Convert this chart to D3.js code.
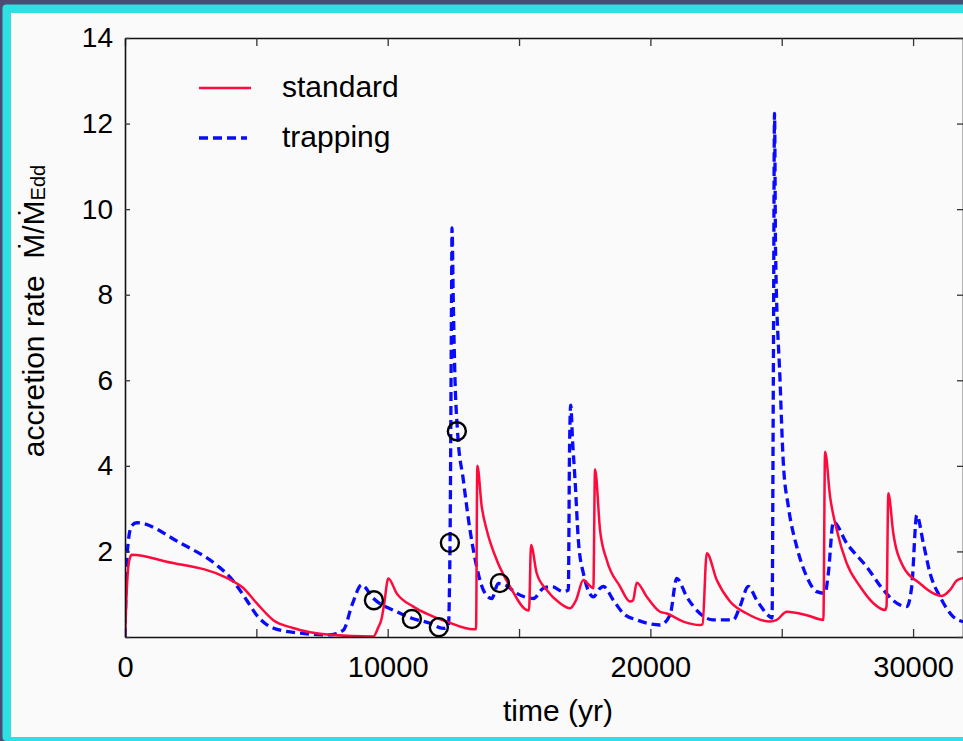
<!DOCTYPE html>
<html>
<head>
<meta charset="utf-8">
<script src="https://cdn.jsdelivr.net/npm/d3@7"></script>
<style>
  body { margin: 0; background: #4b4b73; }
  svg { display: block; }
  text { font-family: "Liberation Sans", Arial, Helvetica, sans-serif; fill: #000; }
</style>
</head>
<body>
<script>
// time (yr) and accretion rate (M/M_Edd)
const standardT = [0, 60, 150, 255, 1587, 3872, 4492, 5014, 5634, 6396, 7804, 9453, 9631, 9772, 9860, 10024, 10343, 10975, 11611, 12247, 13260, 13363, 13412, 13579, 13770, 14150, 14657, 15292, 15380, 15456, 15673, 16054, 16560, 16941, 17170, 17448, 17703, 17829, 17893, 18083, 18338, 18845, 19225, 19340, 19481, 19861, 20367, 20622, 21254, 21890, 21985, 22145, 22526, 23032, 23668, 24554, 24810, 25190, 25952, 26585, 26649, 26840, 27094, 27474, 27982, 28488, 28932, 28989, 29058, 29248, 29629, 30265, 30771, 31091, 31407, 31662, 31900];
const standardV = [0, 1.0, 1.75, 1.92, 1.76, 1.38, 1.15, 0.79, 0.40, 0.21, 0.05, 0.01, 0.21, 0.44, 0.75, 1.37, 1.02, 0.71, 0.51, 0.36, 0.18, 0.18, 4.0, 3.05, 2.50, 1.80, 1.18, 0.63, 0.62, 2.15, 1.49, 1.10, 0.79, 0.67, 0.86, 1.33, 1.19, 1.14, 3.92, 2.50, 1.80, 1.18, 0.83, 0.86, 1.27, 0.94, 0.59, 0.55, 0.36, 0.28, 0.30, 1.96, 1.33, 0.83, 0.55, 0.36, 0.40, 0.59, 0.51, 0.40, 4.33, 3.28, 2.50, 1.72, 1.18, 0.79, 0.63, 0.72, 3.36, 2.42, 1.64, 1.25, 1.02, 0.96, 1.10, 1.32, 1.38];

const trappingT = [0, 40, 120, 255, 445, 2094, 3491, 3997, 4633, 5014, 5634, 6662, 7804, 8311, 8642, 9011, 9441, 10343, 10914, 11611, 12106, 12308, 12373, 12430, 12449, 12496, 12563, 12658, 12879, 13134, 13389, 13640, 13960, 14211, 14467, 14912, 15544, 15925, 16244, 16686, 16877, 16922, 16968, 17036, 17132, 17257, 17448, 17829, 18083, 18209, 18590, 18971, 19481, 20367, 20748, 21003, 21384, 21886, 22393, 23154, 23408, 23728, 24048, 24554, 24630, 24680, 24726, 24765, 24935, 25061, 25252, 25571, 25952, 26333, 26649, 26774, 26965, 27474, 28236, 28868, 29378, 29759, 29949, 30140, 30391, 30646, 31026, 31533, 31900];
const trappingV = [0, 1.2, 2.2, 2.6, 2.67, 2.2, 1.68, 1.40, 0.86, 0.51, 0.21, 0.09, 0.05, 0.16, 0.75, 1.22, 0.91, 0.59, 0.44, 0.32, 0.20, 0.24, 2.2, 7.88, 9.56, 7.88, 6.0, 4.81, 3.67, 2.50, 1.64, 1.10, 0.90, 1.25, 1.22, 1.02, 0.90, 1.14, 1.18, 1.06, 1.10, 4.37, 5.42, 4.60, 3.67, 2.27, 1.49, 0.94, 1.14, 1.18, 0.86, 0.55, 0.40, 0.28, 0.51, 1.37, 0.94, 0.55, 0.40, 0.40, 0.71, 1.18, 0.86, 0.47, 0.44, 6.0, 12.24, 9.0, 6.0, 4.06, 3.05, 2.11, 1.41, 1.06, 1.02, 1.49, 2.69, 2.19, 1.64, 1.10, 0.79, 0.71, 1.18, 2.85, 2.19, 1.49, 0.94, 0.47, 0.36];

// open circles on the trapping run
const markerT = [9475, 10921, 11948, 12367, 12633, 14269];
const markerV = [0.86, 0.42, 0.23, 2.2, 4.81, 1.26];

const xTicks = [0, 5000, 10000, 15000, 20000, 25000, 30000];
const xLabels = [0, 10000, 20000, 30000];
const yTicks = [0, 2, 4, 6, 8, 10, 12, 14];
const yLabels = [2, 4, 6, 8, 10, 12, 14];
const seriesNames = ['standard', 'trapping'];

const W = 963, H = 741;
const plot = { left: 125, right: 963, top: 38, bottom: 637 };

const svg = d3.select('body').append('svg')
  .attr('width', W)
  .attr('height', H);

// frame: dark strip, cyan border, light panel
svg.append('rect').attr('width', W).attr('height', H).attr('fill', '#4b4b73');
svg.append('rect').attr('x', 2.5).attr('y', 4.5).attr('width', W + 10).attr('height', H - 4.5)
  .attr('rx', 4).attr('fill', '#2ee0e3');
svg.append('rect').attr('x', 11).attr('y', 13).attr('width', W).attr('height', 724)
  .attr('fill', '#fafafa');

const x = d3.scaleLinear().domain([0, 31900]).range([plot.left, plot.right]);
const y = d3.scaleLinear().domain([0, 14]).range([plot.bottom, plot.top]);

svg.append('clipPath').attr('id', 'clip')
  .append('rect')
  .attr('x', plot.left).attr('y', plot.top - 2)
  .attr('width', plot.right - plot.left).attr('height', plot.bottom - plot.top + 2);

const line = d3.line()
  .x(d => x(d[0]))
  .y(d => y(d[1]))
  .curve(d3.curveMonotoneX);

const standard = d3.zip(standardT, standardV);
const trapping = d3.zip(trappingT, trappingV);

const g = svg.append('g').attr('clip-path', 'url(#clip)');

g.append('path')
  .datum(trapping)
  .attr('d', line)
  .attr('fill', 'none')
  .attr('stroke', '#0a0aff')
  .attr('stroke-width', 3.3)
  .attr('stroke-dasharray', '9,5');

g.append('path')
  .datum(standard)
  .attr('d', line)
  .attr('fill', 'none')
  .attr('stroke', '#ff0a3c')
  .attr('stroke-width', 2.5)
  .attr('stroke-linejoin', 'round');

g.selectAll('circle')
  .data(d3.zip(markerT, markerV))
  .enter()
  .append('circle')
  .attr('cx', d => x(d[0]))
  .attr('cy', d => y(d[1]))
  .attr('r', 9)
  .attr('fill', 'none')
  .attr('stroke', '#000')
  .attr('stroke-width', 2.4);

// axes, ticks pointing inward
const styleAxis = (sel) => {
  sel.select('.domain').attr('stroke', '#111').attr('stroke-width', 1.6).attr('fill', 'none');
  sel.selectAll('.tick line').attr('stroke', '#333').attr('stroke-width', 1.3);
  sel.selectAll('.tick text').attr('fill', '#000');
};

svg.append('g')
  .attr('transform', `translate(0,${plot.bottom})`)
  .attr('font-family', null)
  .call(d3.axisBottom(x).tickValues(xTicks).tickSizeInner(-8).tickSizeOuter(0).tickPadding(19)
    .tickFormat(d => xLabels.includes(d) ? d : ''))
  .call(styleAxis)
  .call(a => a.selectAll('.tick text').attr('font-size', 29));

svg.append('g')
  .attr('transform', `translate(0,${plot.top})`)
  .call(d3.axisTop(x).tickValues(xTicks).tickSizeInner(-8).tickSizeOuter(0).tickFormat(''))
  .call(styleAxis);

svg.append('g')
  .attr('transform', `translate(${plot.left},0)`)
  .call(d3.axisLeft(y).tickValues(yTicks).tickSizeInner(-5).tickSizeOuter(0).tickPadding(12)
    .tickFormat(d => yLabels.includes(d) ? d : ''))
  .call(styleAxis)
  .call(a => a.selectAll('.tick text').attr('font-size', 28));

svg.append('g')
  .attr('transform', `translate(${plot.right},0)`)
  .call(d3.axisRight(y).tickValues(yTicks).tickSizeInner(-6).tickSizeOuter(0).tickFormat(''))
  .call(styleAxis);

svg.selectAll('g').attr('font-family', null);

// axis titles
svg.append('text')
  .attr('x', 558).attr('y', 721)
  .attr('text-anchor', 'middle')
  .attr('font-size', 30)
  .text('time (yr)');

const ylab = svg.append('text')
  .attr('transform', 'translate(44,311) rotate(-90)')
  .attr('text-anchor', 'middle')
  .attr('font-size', 30);
ylab.append('tspan').text('accretion rate\u00A0\u00A0\u1E40/\u1E40');
ylab.append('tspan').attr('font-size', 20).attr('dy', 1).text('Edd');

// legend
const legend = svg.append('g');
const legendY = [88, 138];
legend.selectAll('line')
  .data(seriesNames)
  .enter()
  .append('line')
  .attr('x1', 199).attr('x2', (d, i) => i ? 247 : 251)
  .attr('y1', (d, i) => legendY[i]).attr('y2', (d, i) => legendY[i])
  .attr('stroke', (d, i) => i ? '#0a0aff' : '#ff0a3c')
  .attr('stroke-width', (d, i) => i ? 3.3 : 2.5)
  .attr('stroke-dasharray', (d, i) => i ? '9,5' : null);
legend.selectAll('text')
  .data(seriesNames)
  .enter()
  .append('text')
  .attr('x', 282)
  .attr('y', (d, i) => legendY[i] + 9)
  .attr('font-size', 30)
  .text(d => d);
</script>
</body>
</html>
